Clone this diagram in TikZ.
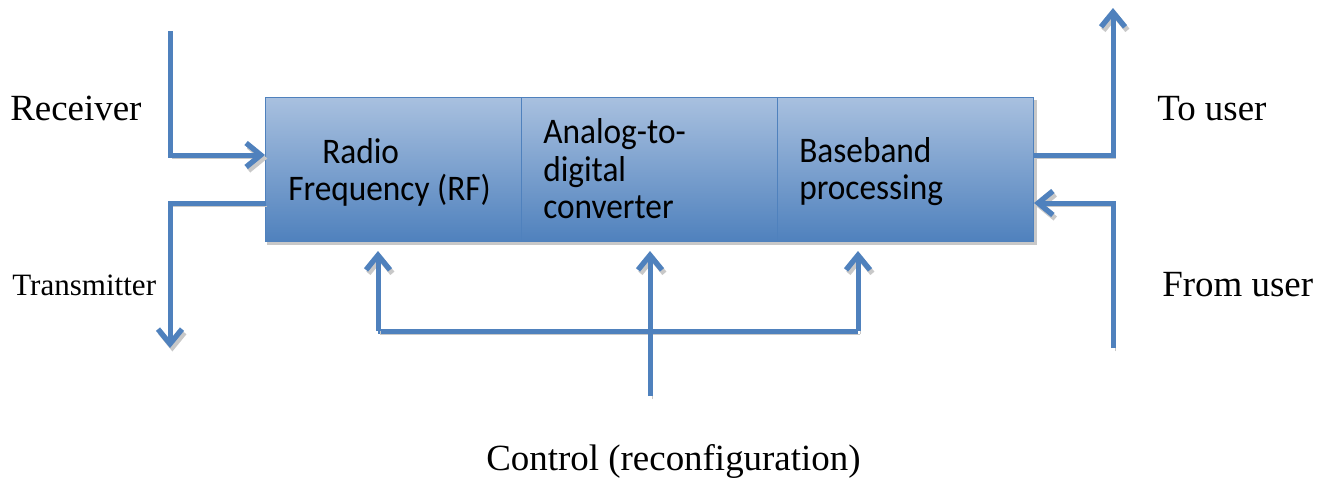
\documentclass[tikz,border=0pt]{standalone}
\usepackage{fontspec}
\setmainfont{Liberation Serif}
\newfontfamily\boxfont{Carlito}
\usetikzlibrary{arrows.meta}
\definecolor{lineblue}{RGB}{79,129,189}
\definecolor{shadowgray}{RGB}{200,200,200}
\definecolor{boxtop}{RGB}{168,192,223}
\definecolor{boxbot}{RGB}{79,129,189}
\begin{document}
\begin{tikzpicture}[x=0.75pt,y=-0.75pt,
  conn/.style={line width=3.75pt, draw=lineblue, line join=miter,
    preaction={draw=shadowgray, transform canvas={shift={(1.8pt,-2.6pt)}}}},
  tip/.style={-{Straight Barb[length=11pt,width=18pt,line width=4pt]}},
  blk/.style={draw=lineblue, line width=1pt, top color=boxtop, bottom color=boxbot,
    minimum width=192pt, minimum height=108pt, inner sep=0pt, anchor=north west},
  blktext/.style={font=\boxfont\fontsize{25pt}{30pt}\selectfont, anchor=base west, inner sep=0pt, yscale=1.08, transform shape},
  lbl/.style={font=\fontsize{27.7pt}{33pt}\selectfont, anchor=base west, inner sep=0pt},
  smalllbl/.style={font=\fontsize{23.3pt}{28pt}\selectfont, anchor=base west, inner sep=0pt}]
\useasboundingbox (0,0) rectangle (1329,479);
% shadow of block row
\fill[shadowgray] (267,100) rectangle (1037,245);
\node[blk] (rf) at (265,97) {};
\node[blk] (adc) at (521,97) {};
\node[blk] (bb) at (777,97) {};
% texts in blocks
\node[blktext] (rf1) at (322,163) {Radio};
\node[blktext] (rf2) at (288,200) {Frequency (RF)};
\node[blktext] (adc1) at (543,143) {Analog-to-};
\node[blktext] (adc2) at (543,181) {digital};
\node[blktext] (adc3) at (543,218) {converter};
\node[blktext] (bb1) at (799,162) {Baseband};
\node[blktext] (bb2) at (799,199) {processing};
% outer labels
\node[lbl] (rx) at (10,120) {Receiver};
\node[smalllbl] (tx) at (12,295) {Transmitter};
\node[lbl] (tou) at (1157,120) {To user};
\node[lbl] (fromu) at (1162,296) {From user};
\node[lbl] (ctl) at (486,470) {Control (reconfiguration)};
% coordinates
\coordinate (rxtop) at (170,31);
\coordinate (rxcorner) at (170,155);
\coordinate (rxend) at (rf.west |- rxcorner);
\coordinate (txstart) at (265,203);
\coordinate (txcorner) at (170,203);
\coordinate (txend) at (170,348);
\coordinate (toustart) at (1034,155);
\coordinate (toucorner) at (1113,155);
\coordinate (touend) at (1113,8);
\coordinate (fromstart) at (1113,348);
\coordinate (fromcorner) at (1113,203);
\coordinate (fromend) at (1034,203);
\coordinate (ctlbot) at (650,396);
\coordinate (ctlmid) at (650,331);
\coordinate (ctlleft) at (378,331);
\coordinate (ctlright) at (858,331);
\coordinate (rfin) at (378,251);
\coordinate (adcin) at (650,251);
\coordinate (bbin) at (858,251);
% connectors
\draw[conn,tip] (rxtop) -- (rxcorner) -- (rxend);
\draw[conn,tip] (txstart) -- (txcorner) -- (txend);
\draw[conn,tip] (toustart) -- (toucorner) -- (touend);
\draw[conn,tip] (fromstart) -- (fromcorner) -- (fromend);
\draw[conn] (ctlleft) -- (ctlright);
\draw[conn,tip] (ctlbot) -- (adcin);
\draw[conn,tip] (ctlleft) -- (rfin);
\draw[conn,tip] (ctlright) -- (bbin);
\end{tikzpicture}
\end{document}
